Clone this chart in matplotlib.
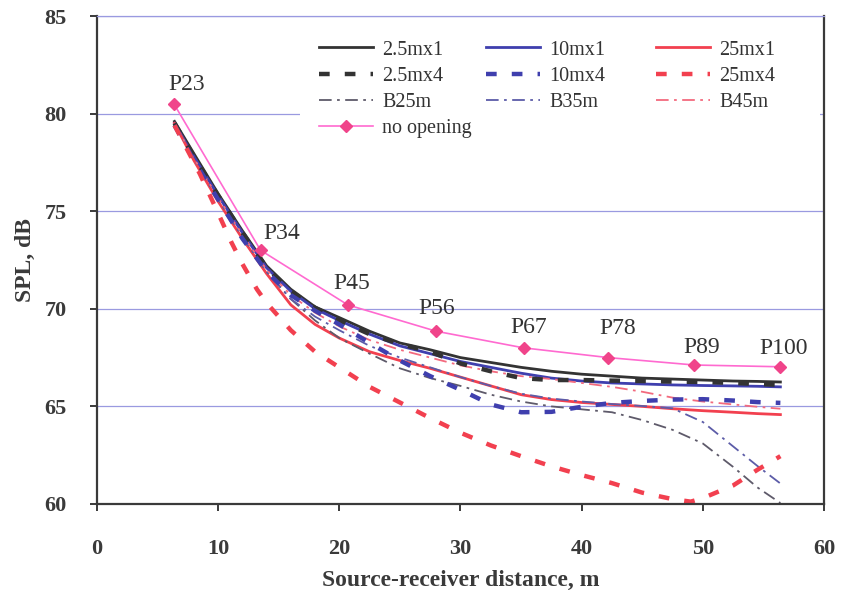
import numpy as np
import matplotlib
matplotlib.use("Agg")
import matplotlib.pyplot as plt
from matplotlib.patches import Rectangle

plt.rcParams['font.family'] = ['Liberation Serif', 'DejaVu Serif']

x = [6.4, 8, 10, 12, 14, 16, 18, 20, 22.5, 25, 27.5, 30, 32.5, 35, 37.5, 40,
     42.5, 45, 47.5, 50, 52.5, 54.5, 56.4]

spl_25x1 = [79.6, 77.95, 75.9, 74.0, 72.2, 71.0, 70.1, 69.55, 68.85, 68.25, 67.9, 67.5,
            67.25, 67.0, 66.8, 66.65, 66.55, 66.45, 66.4, 66.35, 66.3, 66.28, 66.25]
spl_10x1 = [79.5, 77.8, 75.8, 73.9, 72.1, 70.9, 70.0, 69.4, 68.7, 68.1, 67.7, 67.3,
            67.0, 66.7, 66.45, 66.3, 66.2, 66.15, 66.1, 66.07, 66.05, 66.03, 66.0]
spl_250x1 = [79.5, 77.6, 75.5, 73.6, 71.8, 70.2, 69.2, 68.5, 67.8, 67.35, 66.95, 66.5,
             66.05, 65.6, 65.35, 65.2, 65.1, 65.0, 64.88, 64.78, 64.7, 64.63, 64.58]
spl_25x4 = [79.5, 77.8, 75.8, 73.9, 72.1, 70.9, 70.05, 69.4, 68.7, 68.2, 67.8, 67.2,
            66.8, 66.45, 66.35, 66.35, 66.32, 66.3, 66.27, 66.25, 66.2, 66.15, 66.1]
spl_10x4 = [79.4, 77.6, 75.6, 73.6, 71.9, 70.7, 69.9, 69.2, 68.25, 67.35, 66.55, 65.85,
            65.1, 64.7, 64.72, 64.98, 65.18, 65.28, 65.35, 65.37, 65.3, 65.22, 65.18]
spl_b25 = [79.5, 77.7, 75.6, 73.7, 71.9, 70.5, 69.4, 68.5, 67.7, 66.95, 66.45, 66.05,
           65.6, 65.25, 65.0, 64.85, 64.7, 64.3, 63.8, 63.1, 61.9, 60.85, 60.05]
spl_b35 = [79.5, 77.7, 75.6, 73.7, 71.9, 70.5, 69.6, 68.9, 68.1, 67.5, 67.0, 66.5,
           66.05, 65.65, 65.4, 65.25, 65.12, 65.02, 64.9, 64.2, 62.95, 61.95, 61.05]
spl_b45 = [79.5, 77.7, 75.7, 73.8, 72.0, 70.7, 69.8, 69.1, 68.4, 67.9, 67.5, 67.1,
           66.8, 66.55, 66.4, 66.2, 66.0, 65.75, 65.45, 65.25, 65.1, 64.98, 64.88]

# 25m x 4 has its own dip, read at its own distances
x_250x4 = [6.4, 8, 8.5, 10, 11.1, 12, 13.2, 14, 16, 18, 20, 22.5, 25, 27.5, 30, 32.5,
           35, 37.5, 40, 42.5, 45, 47.5, 49, 50, 52.5, 54.5, 56.4]
spl_250x4 = [79.4, 77.5, 76.9, 74.9, 73.4, 72.3, 71.0, 70.3, 68.9, 67.8, 67.0, 66.0,
             65.2, 64.4, 63.65, 63.0, 62.45, 61.93, 61.48, 61.07, 60.58, 60.25, 60.12,
             60.3, 60.95, 61.75, 62.45]

# no opening (measured points)
x_pts = [6.35, 13.5, 20.7, 28.0, 35.2, 42.2, 49.3, 56.4]
spl_none = [80.5, 73.0, 70.2, 68.85, 68.0, 67.5, 67.12, 67.03]
pt_labels = ['P23', 'P34', 'P45', 'P56', 'P67', 'P78', 'P89', 'P100']
lab_dx = [9, 15, 3, 0, 4, 7, 5, 2]
lab_dy = [14, 12, 15.5, 16.5, 14.5, 21, 12.5, 13.5]

black = '#333333'
blue = '#3f3fae'
red = '#f2404f'
dash = (0, (2.4, 3.4))
dashdot = (0, (7, 3, 1.5, 3))
txt = '#3a3a3a'

fig = plt.figure(figsize=(8.41, 5.93), dpi=100)
ax = fig.add_axes([0.1153, 0.1501, 0.8645, 0.8229])

h1, = ax.plot(x, spl_25x1, color=black, lw=2.0, label='2.5mx1')
h2, = ax.plot(x, spl_10x1, color=blue, lw=2.0, label='10mx1')
h3, = ax.plot(x, spl_250x1, color=red, lw=2.0, label='25mx1')
h7, = ax.plot(x, spl_b25, color='#5e5a6a', lw=1.3, ls=dashdot, label='B25m')
h8, = ax.plot(x, spl_b35, color='#5c5ca8', lw=1.3, ls=dashdot, label='B35m')
h9, = ax.plot(x, spl_b45, color='#f36a7e', lw=1.3, ls=dashdot, label='B45m')
h4, = ax.plot(x, spl_25x4, color=black, lw=3.2, ls=dash, label='2.5mx4')
h5, = ax.plot(x, spl_10x4, color=blue, lw=3.2, ls=dash, label='10mx4')
h6, = ax.plot(x_250x4, spl_250x4, color=red, lw=3.2, ls=dash, label='25mx4')
h10, = ax.plot(x_pts, spl_none, color='#ff6ad0', lw=1.2, marker='D', ms=6.5,
               mfc='#f0448a', mec='#f0448a', label='no opening')

for xi, yi, t, dx, dy in zip(x_pts, spl_none, pt_labels, lab_dx, lab_dy):
    ax.annotate(t, (xi, yi), xytext=(dx, dy), textcoords='offset points',
                ha='center', va='center', fontsize=17, color='#333333')

ax.set_xlim(0, 60)
ax.set_ylim(60, 85)
ax.set_xticks(np.arange(0, 61, 10))
ax.set_yticks(np.arange(60, 86, 5))
ax.yaxis.grid(True, color='#9a9ae0', lw=0.9)
ax.set_axisbelow(True)
ax.tick_params(direction='out', length=5, width=1.4, colors=txt, labelsize=16)
ax.tick_params(axis='x', pad=20)
ax.tick_params(axis='y', pad=17)
for lbl in ax.get_xticklabels() + ax.get_yticklabels():
    lbl.set_fontweight('bold')
for s in ['left', 'bottom', 'right']:
    ax.spines[s].set_color(txt)
    ax.spines[s].set_linewidth(1.6)
ax.spines['top'].set_color('#9a9ae0')
ax.spines['top'].set_linewidth(0.9)

ax.set_xlabel('Source-receiver distance, m', fontsize=17, fontweight='bold',
              color=txt, labelpad=8)
ax.set_ylabel('SPL, dB', fontsize=17, fontweight='bold', color=txt,
              labelpad=6)

# white legend area that hides the gridline, then three legend columns
ax.add_patch(Rectangle((0.279, 0.745), 0.715, 0.228, transform=ax.transAxes,
                       facecolor='white', edgecolor='none', zorder=1.5))
columns = [[h1, h4, h7, h10], [h2, h5, h8], [h3, h6, h9]]
col_x = [0.305, 0.535, 0.769]
for i, (hs, cx) in enumerate(zip(columns, col_x)):
    leg = ax.legend(handles=hs, loc='upper left', bbox_to_anchor=(cx, 0.950),
                    frameon=False, fontsize=14.5, handlelength=2.7,
                    handletextpad=0.45, labelspacing=0.35, borderpad=0,
                    borderaxespad=0)
    for t in leg.get_texts():
        t.set_color('#333333')
    if i < 2:
        ax.add_artist(leg)

fig.savefig('out.png', dpi=100)
